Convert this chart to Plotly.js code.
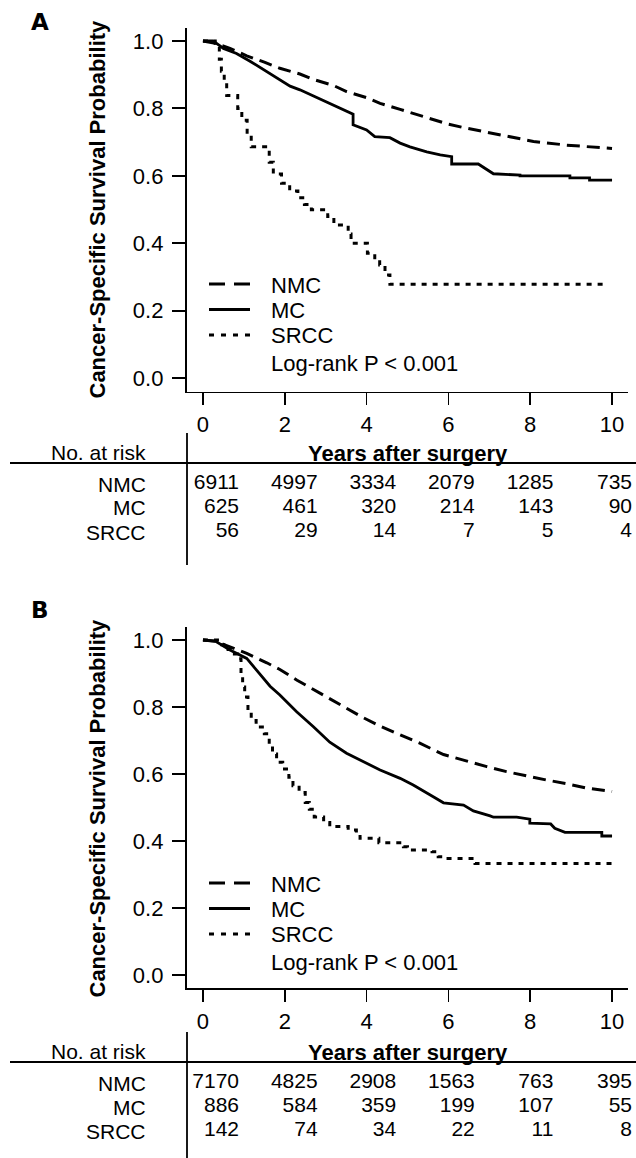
<!DOCTYPE html>
<html><head><meta charset="utf-8">
<script src="https://cdn.plot.ly/plotly-3.0.1.min.js"></script>
<style>html,body{margin:0;padding:0;background:#fff}</style>
</head><body><div id="chart" style="width:636px;height:1158px"></div>
<script>
// ---------- DATA ----------
const seriesNames = ['NMC', 'MC', 'SRCC'];
const riskYears = [0, 2, 4, 6, 8, 10];

// Panel A curves
const A_NMC_t = [0, 0.3, 0.66, 1.07, 1.5, 1.88, 2.37, 2.7, 3.19, 3.51, 4.0, 4.33, 4.82, 5.14, 5.63, 6.0, 6.45, 7.26, 8.08, 8.89, 9.5, 10.0];
const A_NMC_s = [1, 0.993, 0.978, 0.956, 0.937, 0.919, 0.902, 0.886, 0.868, 0.85, 0.832, 0.815, 0.797, 0.785, 0.766, 0.753, 0.741, 0.721, 0.702, 0.691, 0.686, 0.681];
const A_MC_t = [0, 0.25, 0.5, 0.82, 1.15, 1.48, 1.8, 2.13, 2.37, 2.86, 3.19, 3.59, 3.67, 3.67, 4.0, 4.2, 4.57, 4.82, 5.06, 5.47, 5.8, 6.08, 6.08, 6.73, 7.05, 7.1, 7.75, 7.75, 8.97, 8.97, 9.45, 9.45, 10.0];
const A_MC_s = [1, 1, 0.978, 0.963, 0.94, 0.915, 0.89, 0.866, 0.855, 0.828, 0.81, 0.786, 0.783, 0.751, 0.736, 0.716, 0.713, 0.697, 0.686, 0.671, 0.662, 0.657, 0.635, 0.635, 0.612, 0.606, 0.602, 0.6, 0.6, 0.594, 0.594, 0.587, 0.587];
const A_SRCC_t = [0, 0.3, 0.4, 0.45, 0.52, 0.58, 0.85, 0.95, 1.08, 1.18, 1.62, 1.72, 1.92, 2.12, 2.32, 2.48, 2.65, 3.05, 3.2, 3.55, 3.62, 4.02, 4.2, 4.32, 4.45, 4.57, 9.85];
const A_SRCC_s = [1, 0.982, 0.946, 0.91, 0.875, 0.838, 0.8, 0.765, 0.72, 0.686, 0.64, 0.605, 0.578, 0.555, 0.535, 0.515, 0.499, 0.479, 0.454, 0.427, 0.4, 0.37, 0.35, 0.335, 0.306, 0.278, 0.278];

// Panel B curves
const B_NMC_t = [0, 0.3, 0.5, 1.07, 1.56, 1.88, 2.3, 2.7, 3.1, 3.51, 3.92, 4.33, 4.82, 5.3, 5.88, 6.45, 6.94, 7.42, 7.91, 8.4, 8.89, 9.38, 10.0];
const B_NMC_s = [1, 0.996, 0.987, 0.96, 0.932, 0.912, 0.88, 0.852, 0.826, 0.797, 0.768, 0.743, 0.718, 0.692, 0.658, 0.638, 0.622, 0.607, 0.594, 0.582, 0.571, 0.558, 0.548];
const B_MC_t = [0, 0.3, 0.66, 1.07, 1.31, 1.64, 1.88, 2.29, 2.7, 3.1, 3.51, 3.92, 4.33, 4.82, 5.14, 5.63, 5.88, 6.37, 6.61, 7.02, 7.1, 7.67, 7.91, 7.99, 7.99, 8.5, 8.6, 8.85, 9.75, 9.75, 10.0];
const B_MC_s = [1, 0.997, 0.97, 0.945, 0.91, 0.862, 0.836, 0.786, 0.741, 0.695, 0.662, 0.637, 0.612, 0.587, 0.567, 0.532, 0.514, 0.507, 0.49, 0.475, 0.471, 0.471, 0.465, 0.465, 0.453, 0.451, 0.438, 0.426, 0.426, 0.415, 0.415];
const B_SRCC_t = [0, 0.4, 0.55, 0.7, 0.85, 0.93, 0.97, 1.02, 1.1, 1.18, 1.3, 1.5, 1.62, 1.7, 1.8, 1.95, 2.1, 2.2, 2.35, 2.5, 2.6, 2.72, 2.95, 3.1, 3.55, 3.75, 3.84, 4.3, 4.9, 5.0, 5.6, 5.75, 5.9, 6.65, 10.0];
const B_SRCC_s = [1, 0.986, 0.972, 0.958, 0.944, 0.9, 0.86, 0.83, 0.79, 0.76, 0.74, 0.72, 0.69, 0.66, 0.635, 0.615, 0.59, 0.565, 0.545, 0.515, 0.495, 0.472, 0.455, 0.443, 0.433, 0.42, 0.408, 0.395, 0.383, 0.373, 0.368, 0.353, 0.348, 0.333, 0.333];

// Numbers at risk
const A_risk_NMC = [6911, 4997, 3334, 2079, 1285, 735];
const A_risk_MC = [625, 461, 320, 214, 143, 90];
const A_risk_SRCC = [56, 29, 14, 7, 5, 4];
const B_risk_NMC = [7170, 4825, 2908, 1563, 763, 395];
const B_risk_MC = [886, 584, 359, 199, 107, 55];
const B_risk_SRCC = [142, 74, 34, 22, 11, 8];

const yTicks = [0, 0.2, 0.4, 0.6, 0.8, 1.0];
const xTicks = [0, 2, 4, 6, 8, 10];
const panelLabels = ['A', 'B'];
const yTitle = 'Cancer-Specific Survival Probability';
const xTitle = 'Years after surgery';
const pText = 'Log-rank P < 0.001';
const riskHeader = 'No. at risk';

// ---------- LAYOUT HELPERS ----------
const W = 636, H = 1158;
const FONT = 'Liberation Sans, Arial, sans-serif';
const FS = 22;      // axis / legend text
const FT = 21;      // risk-table text
const ROW0 = 484, ROWSTEP = 24;
const px = v => v / W;
const py = v => 1 - v / H;
const OFF = 599; // vertical offset of panel B

const styles = {
  NMC: {width: 3, dash: '13px,7px', legDash: '16px,9px', shape: 'linear'},
  MC: {width: 2.8, dash: 'solid', legDash: 'solid', shape: 'linear'},
  SRCC: {width: 3, dash: '5px,6px', legDash: '5px,7px', shape: 'hv'}
};

const traces = [];
function addCurves(ts, ss, xa, ya) {
  seriesNames.forEach((n, i) => {
    traces.push({
      type: 'scatter', mode: 'lines', name: n, x: ts[i], y: ss[i],
      xaxis: xa, yaxis: ya, showlegend: false, hoverinfo: 'skip',
      line: {color: '#000', width: styles[n].width, dash: styles[n].dash, shape: styles[n].shape}
    });
  });
}
addCurves([A_NMC_t, A_MC_t, A_SRCC_t], [A_NMC_s, A_MC_s, A_SRCC_s], 'x', 'y');
addCurves([B_NMC_t, B_MC_t, B_SRCC_t], [B_NMC_s, B_MC_s, B_SRCC_s], 'x2', 'y2');

function addRisk(rows, ya) {
  const xs = [], ys = [], tx = [];
  rows.forEach((row, r) => row.forEach((v, c) => { xs.push(c); ys.push(r); tx.push(String(v)); }));
  traces.push({type: 'scatter', mode: 'text', x: xs, y: ys, text: tx, textposition: 'middle left',
    textfont: {family: FONT, size: FT, color: '#000'}, xaxis: 'x3', yaxis: ya, showlegend: false, hoverinfo: 'skip'});
}
addRisk([A_risk_NMC, A_risk_MC, A_risk_SRCC], 'y3');
addRisk([B_risk_NMC, B_risk_MC, B_risk_SRCC], 'y4');

const plotX = [px(186.6), px(628.4)];
function yAx(domain, anchor) {
  return {domain, anchor, range: [-0.04, 1.04], tickvals: yTicks, tickformat: '.1f', ticks: 'outside', ticklen: 13, tickwidth: 1.8,
    showline: true, linewidth: 1.8, linecolor: '#000', tickcolor: '#000', showgrid: false, zeroline: false,
    tickfont: {family: FONT, size: FS, color: '#000'}, ticklabelstandoff: 4, fixedrange: true};
}
function xAx(anchor) {
  return {domain: plotX, range: [-0.4, 10.4], tickvals: xTicks, ticks: 'outside', ticklen: 12, tickwidth: 1.8,
    showline: true, linewidth: 1.8, linecolor: '#000', tickcolor: '#000', showgrid: false, zeroline: false,
    tickfont: {family: FONT, size: FS, color: '#000'}, anchor, fixedrange: true};
}

const annotations = [], shapes = [];
const txt = (x, y, text, anchor, extra) => Object.assign({xref: 'paper', yref: 'paper', x: px(x), y: py(y), text, showarrow: false,
  font: {family: FONT, size: FS, color: '#000'}, xanchor: anchor, yanchor: 'middle', borderpad: 0}, extra || {});

[0, OFF].forEach((o, k) => {
  annotations.push(txt(40, k ? 610 : 22, '<b>' + panelLabels[k] + '</b>', 'center', {font: {family: 'DejaVu Sans, sans-serif', size: 23, color: '#000'}}));
  annotations.push(txt(97, 209.5 + o, '<b>' + yTitle + '</b>', 'center', {textangle: -90}));
  annotations.push(txt(407.5, 453 + o, '<b>' + xTitle + '</b>', 'center'));
  // legend (keys + labels)
  seriesNames.forEach((n, r) => {
    const ly = 284 + 25.5 * r + o;
    shapes.push({type: 'line', xref: 'paper', yref: 'paper', x0: px(209), x1: px(250), y0: py(ly), y1: py(ly),
      line: {color: '#000', width: styles[n].width, dash: styles[n].legDash}});
    annotations.push(txt(270, ly + 1, n, 'left'));
  });
  annotations.push(txt(270, 363 + o, pText, 'left'));
  // risk table
  annotations.push(txt(147, 452 + o, riskHeader, 'right', {font: {family: FONT, size: FT, color: '#000'}}));
  seriesNames.forEach((n, r) => annotations.push(txt(147, ROW0 + ROWSTEP * r + o, n, 'right', {font: {family: FONT, size: FT, color: '#000'}})));
  shapes.push({type: 'line', xref: 'paper', yref: 'paper', x0: px(10), x1: 1, y0: py(463 + o), y1: py(463 + o), line: {color: '#000', width: 1.8}});
  shapes.push({type: 'line', xref: 'paper', yref: 'paper', x0: px(187), x1: px(187), y0: py(433 + o), y1: py(k ? 1158 : 565), line: {color: '#000', width: 1.8}});
});

// table axes: column i right edge at 239 + 78.6*i px; row r centre at ROW0 + ROWSTEP*r px
const colR0 = 239, colStep = 78.6;
const tabTop = 470, tabBot = 550;
const yTab = o => ({domain: [py(tabBot + o), py(tabTop + o)],
  range: [(tabBot - ROW0) / ROWSTEP, (tabTop - ROW0) / ROWSTEP], visible: false, anchor: 'x3', fixedrange: true});

const layout = {
  width: W, height: H, margin: {l: 0, r: 0, t: 0, b: 0}, paper_bgcolor: '#fff', plot_bgcolor: '#fff',
  showlegend: false,
  xaxis: xAx('y'), yaxis: yAx([py(391.5), py(27.5)], 'x'),
  xaxis2: xAx('y2'), yaxis2: yAx([py(988.4), py(626.6)], 'x2'),
  xaxis3: {domain: [0, 1], range: [-colR0 / colStep, (W - colR0) / colStep], visible: false, anchor: 'y3', fixedrange: true},
  yaxis3: yTab(0),
  yaxis4: yTab(OFF),
  annotations, shapes
};

Plotly.newPlot('chart', traces, layout, {staticPlot: true, displayModeBar: false});
</script></body></html>
